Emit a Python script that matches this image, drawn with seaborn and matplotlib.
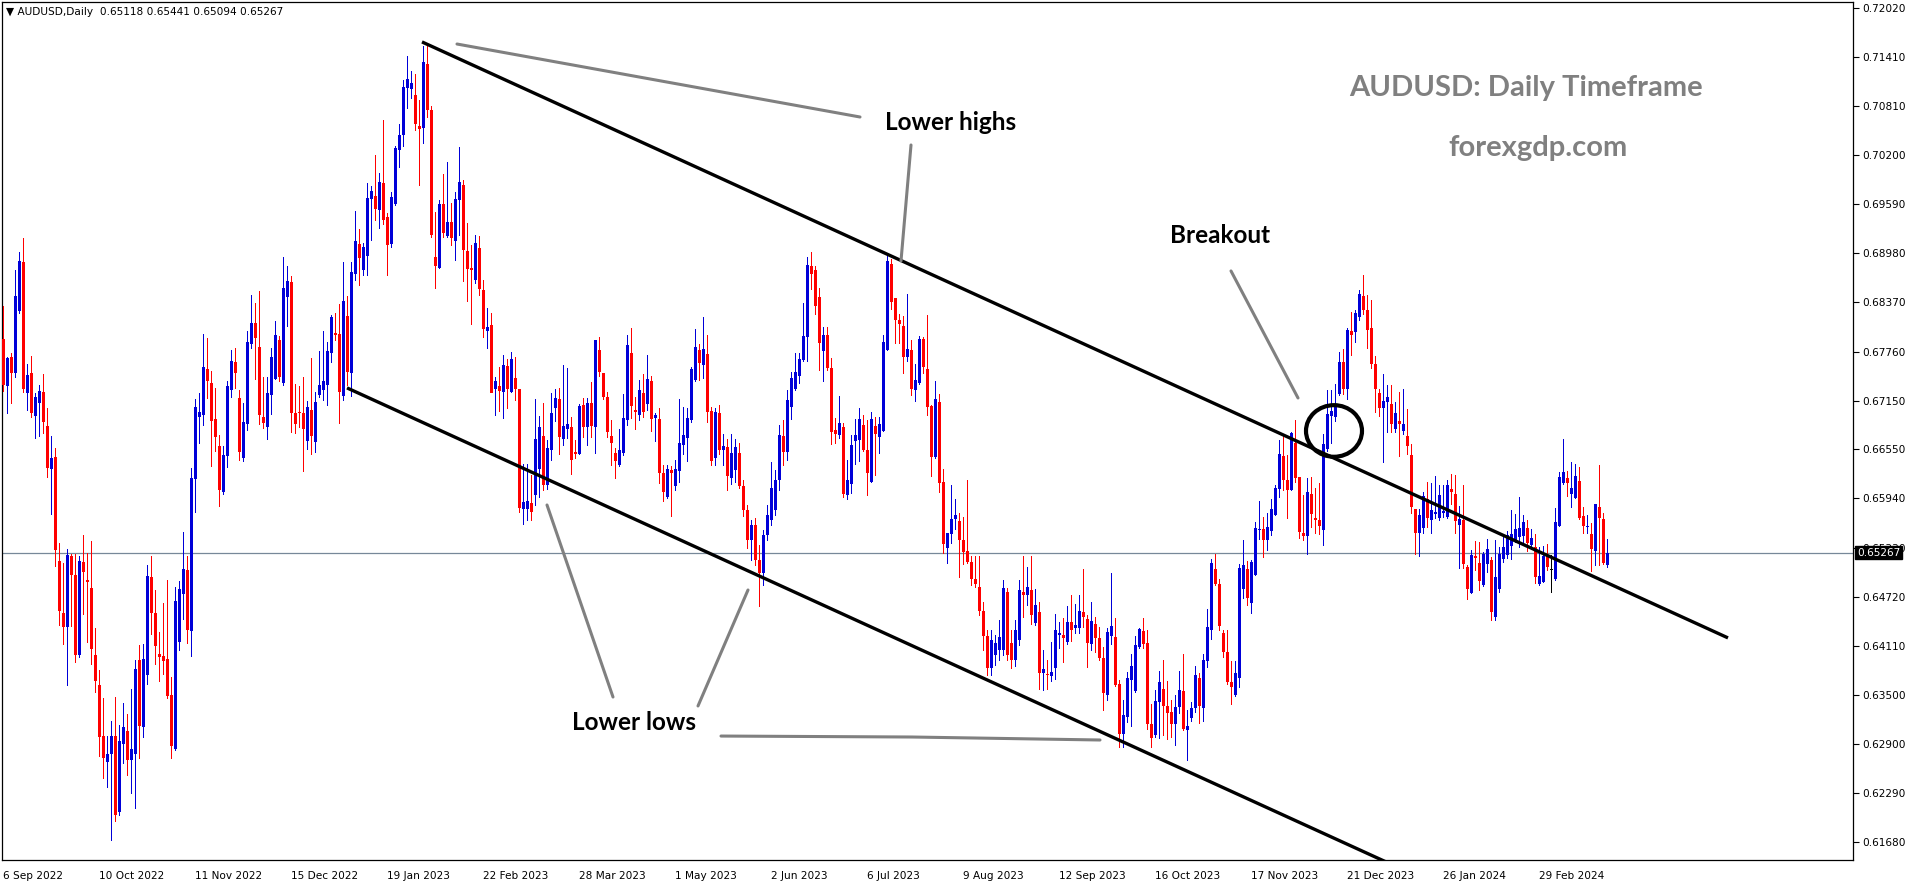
import matplotlib
matplotlib.use('Agg')
import matplotlib.pyplot as plt
import matplotlib.transforms as mtransforms
from matplotlib.patches import Ellipse
import numpy as np
import seaborn as sns

# daily AUDUSD bars, 6 Sep 2022 .. mid Mar 2024
opens = [
    0.6792, 0.6733, 0.6769, 0.6750, 0.6826, 0.6887, 0.6725, 0.6750, 0.6696, 0.6712,
    0.6726, 0.6684, 0.6630, 0.6645, 0.6516, 0.6452, 0.6435, 0.6523, 0.6499, 0.6400,
    0.6515, 0.6493, 0.6483, 0.6400, 0.6363, 0.6299, 0.6267, 0.6277, 0.6299, 0.6205,
    0.6289, 0.6306, 0.6270, 0.6277, 0.6394, 0.6310, 0.6375, 0.6497, 0.6452, 0.6401,
    0.6399, 0.6395, 0.6350, 0.6283, 0.6416, 0.6475, 0.6505, 0.6430, 0.6618, 0.6695,
    0.6697, 0.6754, 0.6737, 0.6692, 0.6659, 0.6602, 0.6647, 0.6728, 0.6763, 0.6719,
    0.6644, 0.6686, 0.6785, 0.6812, 0.6782, 0.6695, 0.6683, 0.6722, 0.6742, 0.6790,
    0.6737, 0.6844, 0.6862, 0.6700, 0.6701, 0.6700, 0.6665, 0.6704, 0.6664, 0.6722,
    0.6728, 0.6735, 0.6774, 0.6799, 0.6798, 0.6721, 0.6820, 0.6750, 0.6872, 0.6909,
    0.6877, 0.6895, 0.6965, 0.6969, 0.6952, 0.6985, 0.6943, 0.6909, 0.6959, 0.7026,
    0.7045, 0.7103, 0.7102, 0.7094, 0.7056, 0.7053, 0.7133, 0.7076, 0.6893, 0.6880,
    0.6959, 0.6919, 0.6937, 0.6913, 0.6964, 0.6983, 0.6901, 0.6880, 0.6865, 0.6905,
    0.6852, 0.6802, 0.6809, 0.6730, 0.6733, 0.6726, 0.6758, 0.6726, 0.6743, 0.6730,
    0.6581, 0.6581, 0.6588, 0.6598, 0.6630, 0.6671, 0.6611, 0.6654, 0.6706, 0.6717,
    0.6668, 0.6680, 0.6683, 0.6652, 0.6649, 0.6710, 0.6683, 0.6712, 0.6683, 0.6778,
    0.6750, 0.6720, 0.6671, 0.6650, 0.6635, 0.6650, 0.6691, 0.6774, 0.6704, 0.6697,
    0.6725, 0.6711, 0.6740, 0.6694, 0.6692, 0.6626, 0.6596, 0.6629, 0.6609, 0.6628,
    0.6660, 0.6669, 0.6691, 0.6741, 0.6778, 0.6759, 0.6773, 0.6702, 0.6644, 0.6700,
    0.6654, 0.6658, 0.6619, 0.6629, 0.6650, 0.6609, 0.6580, 0.6542, 0.6561, 0.6518,
    0.6502, 0.6549, 0.6567, 0.6580, 0.6617, 0.6671, 0.6652, 0.6707, 0.6730, 0.6746,
    0.6766, 0.6794, 0.6882, 0.6877, 0.6844, 0.6777, 0.6797, 0.6756, 0.6679, 0.6673,
    0.6683, 0.6598, 0.6612, 0.6665, 0.6666, 0.6685, 0.6654, 0.6614, 0.6684, 0.6670,
    0.6678, 0.6778, 0.6885, 0.6843, 0.6815, 0.6808, 0.6769, 0.6778, 0.6728, 0.6737,
    0.6792, 0.6754, 0.6709, 0.6645, 0.6714, 0.6614, 0.6533, 0.6550, 0.6568, 0.6566,
    0.6543, 0.6529, 0.6515, 0.6494, 0.6484, 0.6454, 0.6423, 0.6384, 0.6400, 0.6406,
    0.6406, 0.6478, 0.6415, 0.6394, 0.6418, 0.6478, 0.6474, 0.6480, 0.6440, 0.6453,
    0.6378, 0.6376, 0.6374, 0.6384, 0.6425, 0.6425, 0.6416, 0.6441, 0.6433, 0.6433,
    0.6453, 0.6444, 0.6413, 0.6438, 0.6421, 0.6396, 0.6350, 0.6423, 0.6422, 0.6364,
    0.6302, 0.6323, 0.6369, 0.6355, 0.6410, 0.6430, 0.6415, 0.6314, 0.6301, 0.6341,
    0.6358, 0.6337, 0.6329, 0.6314, 0.6335, 0.6355, 0.6307, 0.6322, 0.6334, 0.6371,
    0.6334, 0.6392, 0.6431, 0.6506, 0.6488, 0.6427, 0.6404, 0.6366, 0.6350, 0.6371,
    0.6482, 0.6506, 0.6464, 0.6499, 0.6555, 0.6556, 0.6543, 0.6553, 0.6574, 0.6606,
    0.6647, 0.6617, 0.6604, 0.6663, 0.6621, 0.6551, 0.6547, 0.6599, 0.6570, 0.6567,
    0.6555, 0.6655, 0.6696, 0.6695, 0.6723, 0.6763, 0.6730, 0.6802, 0.6800, 0.6819,
    0.6845, 0.6828, 0.6805, 0.6761, 0.6725, 0.6706, 0.6714, 0.6711, 0.6680, 0.6690,
    0.6678, 0.6671, 0.6648, 0.6581, 0.6551, 0.6557, 0.6593, 0.6567, 0.6575, 0.6570,
    0.6576, 0.6571, 0.6606, 0.6599, 0.6561, 0.6567, 0.6509, 0.6477, 0.6523, 0.6514,
    0.6487, 0.6513, 0.6518, 0.6447, 0.6482, 0.6519, 0.6524, 0.6535, 0.6542, 0.6546,
    0.6547, 0.6557, 0.6536, 0.6534, 0.6488, 0.6490, 0.6523, 0.6505, 0.6494, 0.6560,
    0.6613, 0.6619, 0.6599, 0.6594, 0.6616, 0.6572, 0.6559, 0.6550, 0.6529, 0.6583,
    0.6568, 0.65118,
]
highs = [
    0.6833, 0.6769, 0.6774, 0.6877, 0.6900, 0.6917, 0.6761, 0.6771, 0.6725, 0.6735,
    0.6748, 0.6706, 0.6671, 0.6657, 0.6539, 0.6514, 0.6531, 0.6525, 0.6525, 0.6523,
    0.6549, 0.6526, 0.6541, 0.6433, 0.6381, 0.6347, 0.6299, 0.6318, 0.6348, 0.6313,
    0.6340, 0.6327, 0.6358, 0.6394, 0.6412, 0.6413, 0.6511, 0.6523, 0.6480, 0.6428,
    0.6464, 0.6493, 0.6373, 0.6484, 0.6492, 0.6552, 0.6523, 0.6632, 0.6717, 0.6725,
    0.6798, 0.6793, 0.6752, 0.6731, 0.6673, 0.6659, 0.6740, 0.6778, 0.6781, 0.6728,
    0.6712, 0.6802, 0.6846, 0.6836, 0.6851, 0.6745, 0.6745, 0.6781, 0.6814, 0.6795,
    0.6893, 0.6882, 0.6870, 0.6736, 0.6733, 0.6745, 0.6715, 0.6768, 0.6726, 0.6777,
    0.6802, 0.6788, 0.6821, 0.6824, 0.6835, 0.6887, 0.6845, 0.6887, 0.6950, 0.6928,
    0.6911, 0.6985, 0.6981, 0.7020, 0.6998, 0.7063, 0.6948, 0.6974, 0.7031, 0.7058,
    0.7113, 0.7143, 0.7124, 0.7120, 0.7088, 0.7155, 0.7156, 0.7081, 0.6949, 0.6964,
    0.6996, 0.7011, 0.6960, 0.6974, 0.7030, 0.6989, 0.6936, 0.6908, 0.6921, 0.6919,
    0.6865, 0.6830, 0.6824, 0.6745, 0.6757, 0.6772, 0.6767, 0.6776, 0.6769, 0.6730,
    0.6637, 0.6637, 0.6623, 0.6717, 0.6696, 0.6712, 0.6666, 0.6725, 0.6730, 0.6731,
    0.6759, 0.6756, 0.6695, 0.6666, 0.6711, 0.6719, 0.6719, 0.6738, 0.6790, 0.6794,
    0.6750, 0.6726, 0.6691, 0.6657, 0.6680, 0.6723, 0.6797, 0.6805, 0.6720, 0.6741,
    0.6748, 0.6772, 0.6746, 0.6700, 0.6706, 0.6635, 0.6635, 0.6634, 0.6642, 0.6717,
    0.6707, 0.6706, 0.6757, 0.6804, 0.6786, 0.6819, 0.6797, 0.6707, 0.6706, 0.6710,
    0.6674, 0.6668, 0.6674, 0.6668, 0.6663, 0.6617, 0.6586, 0.6567, 0.6570, 0.6536,
    0.6555, 0.6586, 0.6639, 0.6629, 0.6685, 0.6691, 0.6728, 0.6751, 0.6774, 0.6774,
    0.6836, 0.6893, 0.6900, 0.6882, 0.6855, 0.6807, 0.6807, 0.6768, 0.6694, 0.6721,
    0.6687, 0.6642, 0.6673, 0.6692, 0.6706, 0.6697, 0.6691, 0.6701, 0.6695, 0.6695,
    0.6797, 0.6895, 0.6891, 0.6843, 0.6823, 0.6820, 0.6847, 0.6790, 0.6761, 0.6795,
    0.6794, 0.6821, 0.6710, 0.6740, 0.6723, 0.6630, 0.6551, 0.6610, 0.6593, 0.6576,
    0.6571, 0.6617, 0.6523, 0.6523, 0.6523, 0.6466, 0.6431, 0.6431, 0.6425, 0.6443,
    0.6493, 0.6483, 0.6431, 0.6443, 0.6493, 0.6523, 0.6509, 0.6523, 0.6482, 0.6466,
    0.6406, 0.6394, 0.6416, 0.6451, 0.6441, 0.6446, 0.6461, 0.6474, 0.6463, 0.6474,
    0.6506, 0.6449, 0.6466, 0.6447, 0.6435, 0.6410, 0.6433, 0.6502, 0.6446, 0.6369,
    0.6344, 0.6379, 0.6401, 0.6423, 0.6433, 0.6446, 0.6431, 0.6339, 0.6356, 0.6380,
    0.6394, 0.6368, 0.6344, 0.6350, 0.6380, 0.6401, 0.6332, 0.6342, 0.6386, 0.6377,
    0.6401, 0.6457, 0.6519, 0.6525, 0.6494, 0.6431, 0.6431, 0.6392, 0.6392, 0.6513,
    0.6542, 0.6516, 0.6518, 0.6565, 0.6591, 0.6571, 0.6576, 0.6593, 0.6610, 0.6666,
    0.6671, 0.6648, 0.6676, 0.6691, 0.6621, 0.6598, 0.6619, 0.6621, 0.6607, 0.6613,
    0.6674, 0.6728, 0.6728, 0.6736, 0.6776, 0.6779, 0.6805, 0.6825, 0.6828, 0.6852,
    0.6871, 0.6846, 0.6840, 0.6771, 0.6730, 0.6748, 0.6735, 0.6735, 0.6714, 0.6726,
    0.6730, 0.6705, 0.6661, 0.6581, 0.6581, 0.6602, 0.6614, 0.6613, 0.6622, 0.6611,
    0.6611, 0.6617, 0.6624, 0.6623, 0.6585, 0.6611, 0.6511, 0.6530, 0.6541, 0.6540,
    0.6528, 0.6544, 0.6521, 0.6542, 0.6534, 0.6547, 0.6554, 0.6580, 0.6575, 0.6596,
    0.6573, 0.6567, 0.6556, 0.6550, 0.6534, 0.6535, 0.6537, 0.6524, 0.6582, 0.6627,
    0.6668, 0.6628, 0.6639, 0.6637, 0.6633, 0.6583, 0.6573, 0.6564, 0.6587, 0.6635,
    0.6576, 0.65441,
]
lows = [
    0.6727, 0.6700, 0.6712, 0.6745, 0.6824, 0.6726, 0.6704, 0.6695, 0.6669, 0.6671,
    0.6675, 0.6621, 0.6575, 0.6510, 0.6437, 0.6413, 0.6363, 0.6436, 0.6391, 0.6397,
    0.6451, 0.6416, 0.6389, 0.6354, 0.6275, 0.6247, 0.6236, 0.6170, 0.6194, 0.6201,
    0.6266, 0.6251, 0.6229, 0.6210, 0.6272, 0.6298, 0.6364, 0.6426, 0.6389, 0.6368,
    0.6376, 0.6347, 0.6272, 0.6282, 0.6406, 0.6444, 0.6415, 0.6399, 0.6577, 0.6663,
    0.6685, 0.6719, 0.6634, 0.6653, 0.6585, 0.6599, 0.6633, 0.6720, 0.6731, 0.6642,
    0.6640, 0.6679, 0.6781, 0.6742, 0.6686, 0.6681, 0.6668, 0.6699, 0.6742, 0.6740,
    0.6735, 0.6808, 0.6676, 0.6675, 0.6683, 0.6628, 0.6655, 0.6649, 0.6652, 0.6720,
    0.6716, 0.6710, 0.6763, 0.6790, 0.6688, 0.6716, 0.6735, 0.6721, 0.6865, 0.6859,
    0.6871, 0.6871, 0.6914, 0.6939, 0.6929, 0.6934, 0.6871, 0.6906, 0.6958, 0.7005,
    0.7031, 0.7078, 0.7091, 0.7051, 0.6983, 0.7035, 0.7067, 0.6918, 0.6855, 0.6880,
    0.6918, 0.6918, 0.6908, 0.6890, 0.6921, 0.6864, 0.6839, 0.6810, 0.6861, 0.6846,
    0.6794, 0.6781, 0.6730, 0.6697, 0.6702, 0.6694, 0.6706, 0.6726, 0.6716, 0.6577,
    0.6562, 0.6567, 0.6567, 0.6586, 0.6596, 0.6604, 0.6606, 0.6642, 0.6690, 0.6649,
    0.6660, 0.6669, 0.6624, 0.6644, 0.6649, 0.6670, 0.6660, 0.6670, 0.6650, 0.6746,
    0.6717, 0.6670, 0.6635, 0.6619, 0.6634, 0.6648, 0.6685, 0.6694, 0.6680, 0.6691,
    0.6695, 0.6704, 0.6678, 0.6665, 0.6613, 0.6591, 0.6594, 0.6572, 0.6604, 0.6614,
    0.6649, 0.6640, 0.6689, 0.6740, 0.6741, 0.6743, 0.6689, 0.6635, 0.6636, 0.6649,
    0.6636, 0.6604, 0.6612, 0.6614, 0.6607, 0.6572, 0.6533, 0.6518, 0.6511, 0.6461,
    0.6486, 0.6542, 0.6561, 0.6574, 0.6604, 0.6635, 0.6642, 0.6692, 0.6728, 0.6737,
    0.6764, 0.6764, 0.6854, 0.6823, 0.6753, 0.6740, 0.6753, 0.6662, 0.6663, 0.6669,
    0.6596, 0.6593, 0.6601, 0.6637, 0.6640, 0.6653, 0.6598, 0.6614, 0.6623, 0.6650,
    0.6678, 0.6778, 0.6829, 0.6787, 0.6787, 0.6750, 0.6764, 0.6722, 0.6715, 0.6736,
    0.6750, 0.6697, 0.6622, 0.6644, 0.6602, 0.6526, 0.6514, 0.6539, 0.6556, 0.6497,
    0.6513, 0.6514, 0.6487, 0.6484, 0.6449, 0.6406, 0.6375, 0.6375, 0.6388, 0.6394,
    0.6400, 0.6394, 0.6384, 0.6386, 0.6412, 0.6447, 0.6462, 0.6438, 0.6437, 0.6358,
    0.6356, 0.6358, 0.6367, 0.6370, 0.6409, 0.6391, 0.6413, 0.6417, 0.6427, 0.6427,
    0.6435, 0.6385, 0.6406, 0.6403, 0.6394, 0.6332, 0.6344, 0.6413, 0.6361, 0.6286,
    0.6286, 0.6317, 0.6312, 0.6354, 0.6409, 0.6409, 0.6308, 0.6286, 0.6298, 0.6297,
    0.6301, 0.6296, 0.6298, 0.6288, 0.6328, 0.6307, 0.6270, 0.6318, 0.6329, 0.6315,
    0.6318, 0.6385, 0.6420, 0.6487, 0.6431, 0.6397, 0.6364, 0.6339, 0.6349, 0.6360,
    0.6470, 0.6462, 0.6452, 0.6499, 0.6544, 0.6521, 0.6530, 0.6548, 0.6573, 0.6596,
    0.6604, 0.6570, 0.6604, 0.6614, 0.6545, 0.6543, 0.6525, 0.6559, 0.6551, 0.6550,
    0.6536, 0.6653, 0.6663, 0.6690, 0.6722, 0.6723, 0.6717, 0.6772, 0.6788, 0.6815,
    0.6823, 0.6781, 0.6756, 0.6701, 0.6696, 0.6639, 0.6676, 0.6676, 0.6676, 0.6647,
    0.6674, 0.6649, 0.6576, 0.6525, 0.6523, 0.6551, 0.6559, 0.6551, 0.6570, 0.6567,
    0.6571, 0.6570, 0.6587, 0.6551, 0.6508, 0.6508, 0.6469, 0.6477, 0.6505, 0.6480,
    0.6485, 0.6503, 0.6443, 0.6443, 0.6478, 0.6515, 0.6520, 0.6519, 0.6540, 0.6534,
    0.6536, 0.6529, 0.6531, 0.6489, 0.6487, 0.6490, 0.6505, 0.6478, 0.6493, 0.6560,
    0.6612, 0.6597, 0.6583, 0.6594, 0.6568, 0.6551, 0.6551, 0.6504, 0.6511, 0.6511,
    0.6513, 0.65094,
]
closes = [
    0.6735, 0.6768, 0.6750, 0.6845, 0.6888, 0.6730, 0.6747, 0.6700, 0.6720, 0.6727,
    0.6689, 0.6632, 0.6644, 0.6530, 0.6454, 0.6435, 0.6524, 0.6499, 0.6400, 0.6516,
    0.6503, 0.6490, 0.6407, 0.6368, 0.6298, 0.6272, 0.6277, 0.6299, 0.6201, 0.6293,
    0.6310, 0.6270, 0.6283, 0.6382, 0.6312, 0.6395, 0.6498, 0.6452, 0.6411, 0.6397,
    0.6392, 0.6349, 0.6287, 0.6467, 0.6482, 0.6506, 0.6431, 0.6619, 0.6707, 0.6701,
    0.6757, 0.6740, 0.6690, 0.6670, 0.6604, 0.6648, 0.6733, 0.6764, 0.6750, 0.6652,
    0.6689, 0.6788, 0.6812, 0.6793, 0.6697, 0.6688, 0.6725, 0.6769, 0.6797, 0.6745,
    0.6855, 0.6864, 0.6700, 0.6686, 0.6700, 0.6680, 0.6707, 0.6671, 0.6714, 0.6735,
    0.6740, 0.6777, 0.6819, 0.6797, 0.6726, 0.6839, 0.6751, 0.6875, 0.6913, 0.6892,
    0.6906, 0.6966, 0.6975, 0.6953, 0.6986, 0.6939, 0.6908, 0.6968, 0.7029, 0.7045,
    0.7104, 0.7114, 0.7109, 0.7058, 0.7052, 0.7135, 0.7076, 0.6921, 0.6882, 0.6959,
    0.6923, 0.6937, 0.6917, 0.6965, 0.6986, 0.6902, 0.6878, 0.6877, 0.6911, 0.6854,
    0.6804, 0.6807, 0.6725, 0.6740, 0.6727, 0.6759, 0.6730, 0.6767, 0.6730, 0.6582,
    0.6590, 0.6591, 0.6577, 0.6668, 0.6683, 0.6611, 0.6657, 0.6700, 0.6719, 0.6670,
    0.6684, 0.6686, 0.6642, 0.6649, 0.6709, 0.6683, 0.6712, 0.6684, 0.6790, 0.6751,
    0.6720, 0.6676, 0.6663, 0.6640, 0.6654, 0.6694, 0.6784, 0.6709, 0.6701, 0.6728,
    0.6701, 0.6742, 0.6692, 0.6697, 0.6626, 0.6602, 0.6630, 0.6626, 0.6630, 0.6663,
    0.6673, 0.6694, 0.6754, 0.6782, 0.6762, 0.6779, 0.6701, 0.6640, 0.6701, 0.6654,
    0.6659, 0.6622, 0.6650, 0.6658, 0.6609, 0.6580, 0.6542, 0.6561, 0.6518, 0.6502,
    0.6549, 0.6574, 0.6607, 0.6617, 0.6673, 0.6652, 0.6716, 0.6743, 0.6751, 0.6767,
    0.6795, 0.6883, 0.6872, 0.6833, 0.6787, 0.6797, 0.6756, 0.6676, 0.6674, 0.6687,
    0.6599, 0.6617, 0.6660, 0.6673, 0.6692, 0.6654, 0.6626, 0.6692, 0.6674, 0.6686,
    0.6788, 0.6888, 0.6838, 0.6815, 0.6810, 0.6769, 0.6779, 0.6730, 0.6741, 0.6792,
    0.6757, 0.6707, 0.6645, 0.6717, 0.6613, 0.6537, 0.6551, 0.6568, 0.6574, 0.6543,
    0.6527, 0.6515, 0.6494, 0.6488, 0.6454, 0.6423, 0.6384, 0.6418, 0.6415, 0.6422,
    0.6483, 0.6400, 0.6394, 0.6431, 0.6480, 0.6474, 0.6484, 0.6449, 0.6462, 0.6378,
    0.6382, 0.6375, 0.6379, 0.6431, 0.6427, 0.6421, 0.6441, 0.6431, 0.6437, 0.6454,
    0.6447, 0.6415, 0.6442, 0.6421, 0.6396, 0.6353, 0.6428, 0.6436, 0.6363, 0.6302,
    0.6325, 0.6371, 0.6386, 0.6412, 0.6432, 0.6413, 0.6314, 0.6297, 0.6343, 0.6366,
    0.6337, 0.6328, 0.6314, 0.6335, 0.6356, 0.6308, 0.6312, 0.6334, 0.6375, 0.6337,
    0.6394, 0.6435, 0.6514, 0.6488, 0.6436, 0.6404, 0.6366, 0.6360, 0.6378, 0.6508,
    0.6511, 0.6470, 0.6515, 0.6557, 0.6556, 0.6542, 0.6558, 0.6581, 0.6607, 0.6649,
    0.6617, 0.6604, 0.6675, 0.6619, 0.6552, 0.6547, 0.6602, 0.6575, 0.6567, 0.6560,
    0.6661, 0.6699, 0.6702, 0.6707, 0.6763, 0.6730, 0.6803, 0.6797, 0.6824, 0.6847,
    0.6828, 0.6803, 0.6761, 0.6730, 0.6706, 0.6715, 0.6720, 0.6686, 0.6700, 0.6686,
    0.6686, 0.6659, 0.6583, 0.6551, 0.6573, 0.6597, 0.6570, 0.6580, 0.6577, 0.6598,
    0.6578, 0.6611, 0.6602, 0.6566, 0.6568, 0.6513, 0.6482, 0.6524, 0.6520, 0.6492,
    0.6525, 0.6531, 0.6453, 0.6497, 0.6525, 0.6534, 0.6549, 0.6550, 0.6556, 0.6557,
    0.6565, 0.6539, 0.6545, 0.6497, 0.6498, 0.6523, 0.6509, 0.6505, 0.6565, 0.6621,
    0.6627, 0.6613, 0.6607, 0.6622, 0.6570, 0.6560, 0.6560, 0.6531, 0.6587, 0.6570,
    0.6514, 0.65267,
]

date_labels = ['6 Sep 2022', '10 Oct 2022', '11 Nov 2022', '15 Dec 2022', '19 Jan 2023',
               '22 Feb 2023', '28 Mar 2023', '1 May 2023', '2 Jun 2023', '6 Jul 2023',
               '9 Aug 2023', '12 Sep 2023', '16 Oct 2023', '17 Nov 2023', '21 Dec 2023',
               '26 Jan 2024', '29 Feb 2024']
price_ticks = [0.72020, 0.71410, 0.70810, 0.70200, 0.69590, 0.68980, 0.68370, 0.67760,
               0.67150, 0.66550, 0.65940, 0.65330, 0.64720, 0.64110, 0.63500, 0.62900,
               0.62290, 0.61680]

sns.set_style('white')
plt.rcParams['font.family'] = ['DejaVu Sans']

o = np.array(opens); h = np.array(highs); l = np.array(lows); c = np.array(closes)
bars = np.arange(len(c))
cols = np.where(c > o, '#0000d8', np.where(c < o, '#ff0000', '#000000'))

fig = plt.figure(figsize=(19.16, 8.84), dpi=100)
ax = fig.add_axes([2 / 1916, 24 / 884, 1851 / 1916, 858 / 884])

# candles: wick + body (crisp pixels like the terminal)
ax.vlines(bars, l, h, colors=cols, linewidth=0.72, zorder=3, antialiased=False)
body = np.maximum(np.abs(c - o), 0.00013)
ax.bar(bars, body, bottom=np.minimum(o, c), width=0.75, color=cols, linewidth=0,
       zorder=3, antialiased=False)

# bid line
ax.axhline(c[-1], color='#778899', linewidth=0.9, zorder=1)

# channel lines
ax.plot([104.75, 431.25], [0.7160, 0.6421], color='black', linewidth=2.4, solid_capstyle='butt', zorder=4)
ax.plot([86, 360], [0.6731, 0.6111], color='black', linewidth=2.4, solid_capstyle='butt', zorder=4)

# grey pointer lines
grey = '#808080'
pointer_lines = [
    ([113.5, 214.25], [0.71574, 0.70669]),
    ([227.0, 224.5], [0.70322, 0.68884]),
    ([136.0, 152.5], [0.65858, 0.63477]),
    ([173.75, 186.25], [0.63366, 0.64804]),
    ([179.5, 227.25, 274.25], [0.62993, 0.62981, 0.62944]),
    ([307.0, 323.75], [0.68760, 0.67185]),
]
for xs, ys in pointer_lines:
    ax.plot(xs, ys, color=grey, linewidth=2.2, zorder=4)

ax.add_patch(Ellipse((332.75, 0.66776), 14.0, 0.0064, fill=False, edgecolor='black',
                     linewidth=3.0, zorder=5))

# texts
lab = dict(family='Lato', fontweight='bold', color='black', fontsize=17.5,
           ha='center', va='center', transform=ax.transAxes)
ax.text(0.5127, 0.8590, 'Lower highs', **lab)
ax.text(0.6580, 0.7284, 'Breakout', **lab)
ax.text(0.3414, 0.1597, 'Lower lows', **lab)
ax.text(0.8233, 0.8998, 'AUDUSD: Daily Timeframe', family='Lato', fontweight='bold',
        color='#808080', fontsize=21, ha='center', va='center', transform=ax.transAxes)
ax.text(0.8298, 0.8298, 'forexgdp.com', family='Lato', fontweight='bold',
        color='#808080', fontsize=21, ha='center', va='center', transform=ax.transAxes)

fig.text(6 / 1916, 1 - 12 / 884, '\u25bc AUDUSD,Daily  0.65118 0.65441 0.65094 0.65267',
         fontsize=7.6, va='center', ha='left', color='black')

# axes
ax.set_xlim(-0.25, 462.5)
ax.set_ylim(0.61456, 0.72095)
ax.yaxis.tick_right()
ax.set_yticks(price_ticks)
ax.set_yticklabels(['%.5f' % p for p in price_ticks])
ax.set_xticks(np.arange(len(date_labels)) * 24)
ax.set_xticklabels(date_labels, ha='left')
ax.tick_params(axis='both', direction='out', length=4, width=0.8, labelsize=7.6,
               colors='black', pad=3)
ax.tick_params(axis='x', pad=4)
for s in ax.spines.values():
    s.set_color('black')
    s.set_linewidth(0.9)
ax.grid(False)

# last price box on the right scale (covers the 0.65330 label as in the terminal)
trans = mtransforms.blended_transform_factory(ax.transAxes, ax.transData)
ax.text(1.0 + 4 / 1851, c[-1], '%.5f' % c[-1], transform=trans, ha='left', va='center',
        color='white', fontsize=7.6, zorder=10, clip_on=False,
        bbox=dict(facecolor='black', edgecolor='black', pad=1.2))

fig.savefig('out.png', dpi=100, facecolor='white')
